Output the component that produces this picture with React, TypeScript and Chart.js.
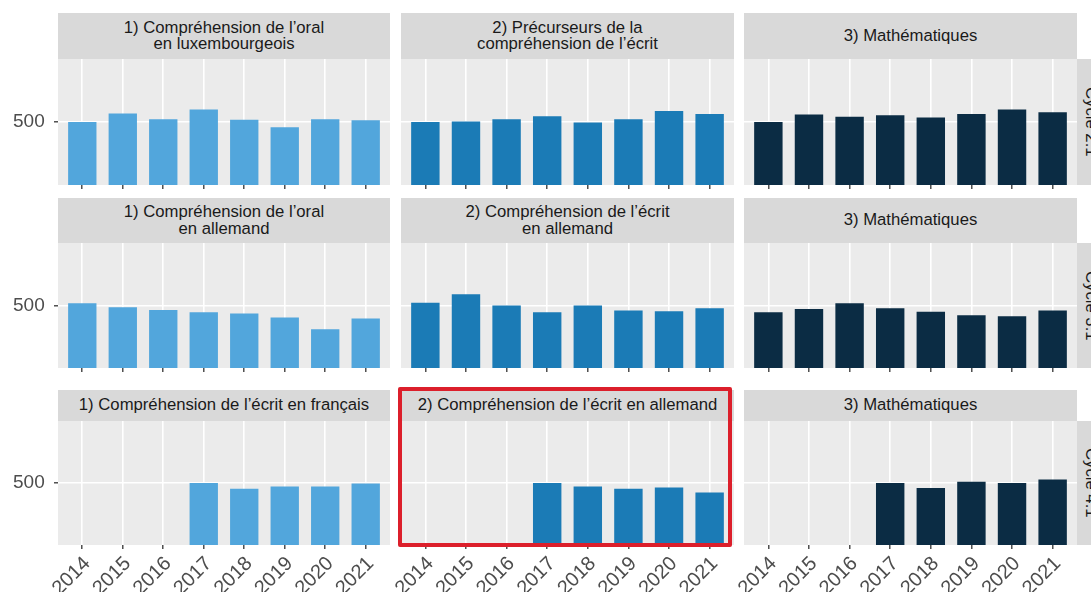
import React, { useEffect, useRef } from "react";
import { Chart, registerables } from "chart.js";

Chart.register(...registerables);

const YEARS = [2014, 2015, 2016, 2017, 2018, 2019, 2020, 2021];
const Y_TICKS = [500];
const Y_MIN = 390;
const Y_MAX = 610;

// Cycle 2.1
const c21_oral_lux = [500, 515, 505, 522, 504, 491, 505, 503];
const c21_precurseurs = [500, 501, 505, 510, 499, 505, 519, 514];
const c21_math = [500, 513, 509, 512, 508, 514, 522, 517];
// Cycle 3.1
const c31_oral_all = [504, 497, 492, 488, 486, 479, 458, 477];
const c31_ecrit_all = [505, 520, 500, 488, 500, 491, 490, 495];
const c31_math = [488, 494, 504, 495, 489, 483, 481, 491];
// Cycle 4.1
const c41_ecrit_fr = [null, null, null, 500, 490, 494, 494, 499];
const c41_ecrit_all = [null, null, null, 500, 494, 490, 492, 483];
const c41_math = [null, null, null, 500, 491, 502, 500, 506];

const ROW_LABELS = ["Cycle 2.1", "Cycle 3.1", "Cycle 4.1"];
const STRIP_LABELS = [
  ["1) Compréhension de l’oral\nen luxembourgeois", "2) Précurseurs de la\ncompréhension de l’écrit", "3) Mathématiques"],
  ["1) Compréhension de l’oral\nen allemand", "2) Compréhension de l’écrit\nen allemand", "3) Mathématiques"],
  ["1) Compréhension de l’écrit en français", "2) Compréhension de l’écrit en allemand", "3) Mathématiques"],
];
const VALUES = [
  [c21_oral_lux, c21_precurseurs, c21_math],
  [c31_oral_all, c31_ecrit_all, c31_math],
  [c41_ecrit_fr, c41_ecrit_all, c41_math],
];
const COLORS = ["#52a6dc", "#1b7bb6", "#0b2c44"];

// layout (pixels)
const COLS = [
  { left: 58, width: 332 },
  { left: 401, width: 333 },
  { left: 744, width: 333 },
];
const ROWS = [
  { stripTop: 13, top: 59, height: 126 },
  { stripTop: 198, top: 243, height: 125 },
  { stripTop: 390, top: 421, height: 124 },
];
const FONT = "'Liberation Sans', Arial, Helvetica, sans-serif";
const Y_LABEL_LEFT = 13;

const bgPlugin = {
  id: "panelBg",
  beforeDraw(chart: any) {
    const { ctx, chartArea } = chart;
    ctx.save();
    ctx.fillStyle = "#ebebeb";
    ctx.fillRect(chartArea.left, chartArea.top, chartArea.right - chartArea.left, chartArea.bottom - chartArea.top);
    ctx.restore();
  },
};

function zeroPad(s: any) {
  s.paddingTop = 0;
  s.paddingBottom = 0;
  s.paddingLeft = 0;
  s.paddingRight = 0;
}

function Panel({ r, c }: { r: number; c: number }) {
  const ref = useRef<HTMLCanvasElement | null>(null);
  const showY = c === 0;
  const showX = r === 2;
  const padLeft = showY ? Y_LABEL_LEFT : 0;
  const yW = showY ? COLS[0].left - Y_LABEL_LEFT : 40;
  const xH = showX ? 592 - (ROWS[r].top + ROWS[r].height) : 6;
  const width = COLS[c].width + yW + padLeft;
  const height = ROWS[r].height + xH;
  const left = COLS[c].left - yW - padLeft;
  const top = ROWS[r].top;

  useEffect(() => {
    const vals = VALUES[r][c];
    const data = YEARS.map((y, i) => ({ x: y, y: vals[i] })).filter((d) => d.y !== null);
    const chart = new Chart(ref.current as HTMLCanvasElement, {
      type: "bar",
      data: {
        datasets: [
          {
            data: data as any,
            backgroundColor: COLORS[c],
            borderWidth: 0,
            barPercentage: 0.7,
            categoryPercentage: 1,
          },
        ],
      },
      options: {
        animation: false,
        responsive: false,
        maintainAspectRatio: false,
        layout: { padding: { left: padLeft, top: 0, right: 0, bottom: 0 } },
        plugins: { legend: { display: false }, tooltip: { enabled: false } },
        scales: {
          x: {
            type: "linear",
            min: 2013.4,
            max: 2021.6,
            offset: false,
            afterBuildTicks: (s: any) => {
              s.ticks = YEARS.map((v) => ({ value: v }));
            },
            afterFit: (s: any) => {
              s.height = xH;
              zeroPad(s);
            },
            grid: {
              offset: false,
              color: "#ffffff",
              lineWidth: 1.6,
              tickColor: "#333333",
              tickLength: 4,
              tickWidth: 1.3,
              drawTicks: true,
            },
            border: { display: false },
            ticks: {
              display: showX,
              autoSkip: false,
              maxRotation: 45,
              minRotation: 45,
              padding: 3,
              labelOffset: 5,
              color: "#4d4d4d",
              font: { family: FONT, size: 20 },
              callback: (v: any) => String(v),
            },
          },
          y: {
            type: "linear",
            min: Y_MIN,
            max: Y_MAX,
            afterBuildTicks: (s: any) => {
              s.ticks = Y_TICKS.map((v) => ({ value: v }));
            },
            afterFit: (s: any) => {
              s.width = yW;
              zeroPad(s);
            },
            grid: {
              color: "#ffffff",
              lineWidth: 1.6,
              tickColor: "#333333",
              tickLength: 4,
              tickWidth: 1.3,
              drawTicks: showY,
            },
            border: { display: false },
            ticks: {
              display: showY,
              crossAlign: "far",
              padding: 8,
              color: "#4d4d4d",
              font: { family: FONT, size: 19 },
              callback: (v: any) => String(v),
            },
          },
        },
      },
      plugins: [bgPlugin],
    });
    return () => chart.destroy();
  }, [r, c]);

  return (
    <canvas
      ref={ref}
      width={width}
      height={height}
      style={{ position: "absolute", left, top, width, height }}
    />
  );
}

export default function App() {
  const panels: React.ReactNode[] = [];
  ROWS.forEach((row, r) => {
    COLS.forEach((col, c) => {
      panels.push(<Panel key={`p${r}${c}`} r={r} c={c} />);
      const label = STRIP_LABELS[r][c];
      panels.push(
        <div
          key={`s${r}${c}`}
          style={{
            position: "absolute",
            left: col.left,
            top: row.stripTop,
            width: col.width,
            height: row.top - row.stripTop,
            background: "#d9d9d9",
            color: "#1a1a1a",
            fontFamily: FONT,
            fontSize: 16.7,
            lineHeight: "16.5px",
            display: "flex",
            alignItems: "center",
            justifyContent: "center",
            textAlign: "center",
            whiteSpace: "pre-line",
          }}
        >
          {label}
        </div>
      );
    });
    panels.push(
      <div
        key={`rs${r}`}
        style={{
          position: "absolute",
          left: 1077,
          top: row.top,
          width: 27,
          height: row.height,
          background: "#d9d9d9",
          color: "#1a1a1a",
          fontFamily: FONT,
          fontSize: 16.7,
          display: "flex",
          alignItems: "center",
          justifyContent: "center",
          writingMode: "vertical-rl",
        }}
      >
        {ROW_LABELS[r]}
      </div>
    );
  });

  return (
    <div
      style={{
        position: "fixed",
        left: 0,
        top: 0,
        width: 1091,
        height: 592,
        overflow: "hidden",
        background: "#ffffff",
      }}
    >
      {panels}
      <div
        style={{
          position: "absolute",
          left: 398,
          top: 387,
          width: 334,
          height: 160,
          boxSizing: "border-box",
          border: "4px solid #dc1f2b",
          borderRadius: 2,
          pointerEvents: "none",
        }}
      />
    </div>
  );
}
